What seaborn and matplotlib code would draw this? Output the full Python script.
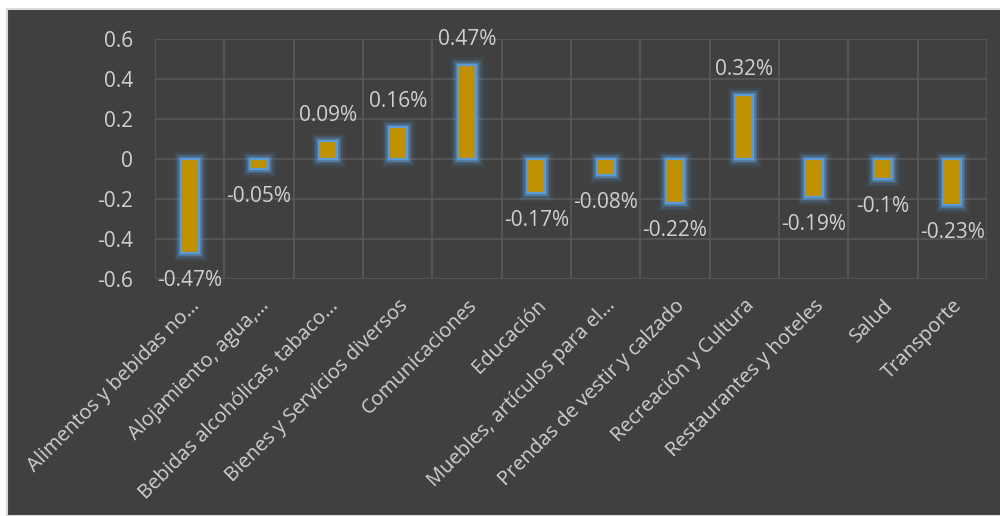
import matplotlib
matplotlib.use("Agg")
import matplotlib.pyplot as plt
import matplotlib.patheffects as pe
from matplotlib.patches import Rectangle
import seaborn as sns
import pandas as pd

categories = [
    "Alimentos y bebidas no…",
    "Alojamiento, agua,…",
    "Bebidas alcohólicas, tabaco…",
    "Bienes y Servicios diversos",
    "Comunicaciones",
    "Educación",
    "Muebles, artículos para el…",
    "Prendas de vestir y calzado",
    "Recreación y Cultura",
    "Restaurantes y hoteles",
    "Salud",
    "Transporte",
]
values = [-0.47, -0.05, 0.09, 0.16, 0.47, -0.17, -0.08, -0.22, 0.32, -0.19, -0.1, -0.23]
value_labels = ["-0.47%", "-0.05%", "0.09%", "0.16%", "0.47%", "-0.17%", "-0.08%",
                "-0.22%", "0.32%", "-0.19%", "-0.1%", "-0.23%"]
yticks = [-0.6, -0.4, -0.2, 0, 0.2, 0.4, 0.6]
ytick_labels = ["-0.6", "-0.4", "-0.2", "0", "0.2", "0.4", "0.6"]

BG = "#404040"
GRID = "#595959"
TXT = "#D0D0D0"
BAR = "#BF9000"
EDGE = "#5B9BD5"

sns.set_style("dark")
plt.rcParams["font.family"] = ["Open Sans", "DejaVu Sans"]

fig = plt.figure(figsize=(10, 5.16), dpi=100, facecolor="white")
fig.patches.append(Rectangle((0.007, 0), 1.0, 1 - 9 / 516, transform=fig.transFigure,
                             facecolor=BG, edgecolor="#D9D9D9", linewidth=1.5, zorder=-10))

ax = fig.add_axes([155 / 1000, 1 - 279 / 516, (987 - 155) / 1000, 240 / 516])
ax.set_facecolor(BG)

df = pd.DataFrame({"cat": categories, "val": values})
sns.barplot(data=df, x="cat", y="val", color=BAR, width=0.255, edgecolor=EDGE,
            linewidth=1.6, saturation=1, ax=ax, zorder=3)

for p in ax.patches:
    p.set_path_effects([
        pe.Stroke(linewidth=11, foreground=EDGE, alpha=0.08),
        pe.Stroke(linewidth=8, foreground=EDGE, alpha=0.15),
        pe.Stroke(linewidth=5.5, foreground=EDGE, alpha=0.25),
        pe.Stroke(linewidth=3.5, foreground=EDGE, alpha=0.4),
        pe.Normal(),
    ])

ax.set_ylim(-0.6, 0.6)
ax.set_xlim(-0.5, len(categories) - 0.5)
ax.set_yticks(yticks)
ax.set_yticklabels(ytick_labels)
ax.set_xticks(range(len(categories)))
ax.set_xticklabels(categories, rotation=45, ha="right", rotation_mode="anchor")
ax.set_xticks([i - 0.5 for i in range(len(categories) + 1)], minor=True)

ax.grid(False)
ax.grid(True, axis="y", which="major", color=GRID, linewidth=1.2, zorder=0)
ax.grid(True, axis="x", which="minor", color=GRID, linewidth=1.2, zorder=0)
ax.set_axisbelow(True)
for s in ax.spines.values():
    s.set_visible(False)

ax.tick_params(axis="y", length=0, pad=16, labelsize=15, labelcolor=TXT)
ax.tick_params(axis="x", which="major", length=0, pad=12, labelsize=14.5, labelcolor=TXT)
ax.tick_params(axis="x", which="minor", length=0)
ax.set_xlabel("")
ax.set_ylabel("")

for i, (v, lab) in enumerate(zip(values, value_labels)):
    off = 18 if v >= 0 else -20
    ax.annotate(lab, (i, v), xytext=(0, off), textcoords="offset points",
                ha="center", va="center", fontsize=15, color=TXT, zorder=5,
                annotation_clip=False)

fig.savefig("out.png", dpi=100, facecolor="white")
